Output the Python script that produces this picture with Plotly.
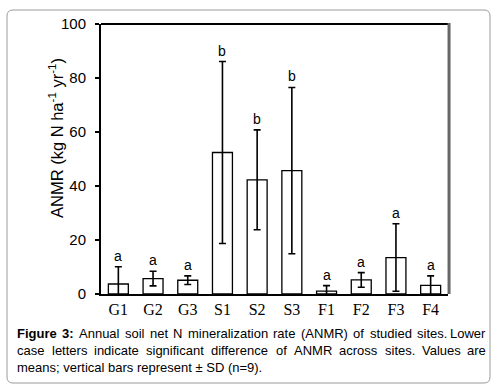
import plotly.graph_objects as go

sites = ["G1", "G2", "G3", "S1", "S2", "S3", "F1", "F2", "F3", "F4"]
means = [3.7, 5.7, 5.1, 52.4, 42.3, 45.7, 1.1, 5.2, 13.5, 3.2]
sds = [6.4, 2.7, 1.6, 33.7, 18.5, 30.8, 2.0, 2.7, 12.5, 3.5]
letters = ["a", "a", "a", "b", "b", "b", "a", "a", "a", "a"]
y_ticks = [0, 20, 40, 60, 80, 100]

W, H = 503, 391
L, R, T, B = 101, 448, 24, 294  # plot area in pixels

def px(x):
    return (x - L) / (R - L)

def py(y):
    return (B - y) / (B - T)

fig = go.Figure()
fig.add_trace(go.Bar(
    x=sites, y=means,
    marker=dict(color="white", line=dict(color="black", width=1.3)),
    error_y=dict(type="data", array=sds, visible=True, color="black",
                 thickness=1.6, width=3.5),
    width=0.575,
))

for s, m, sd, lt in zip(sites, means, sds, letters):
    fig.add_annotation(x=s, y=m + sd, text=lt, showarrow=False,
                       yanchor="bottom", yshift=1,
                       font=dict(family="Liberation Sans", size=14, color="black"))

# y-axis title
fig.add_annotation(x=px(56), y=py(138), xref="paper", yref="paper",
                   text="ANMR (kg N ha<sup>-1</sup> yr<sup>-1</sup>)", textangle=-90,
                   showarrow=False, xanchor="center", yanchor="middle",
                   font=dict(family="Liberation Sans", size=16.5, color="black"))

# outer rounded frame
x0, x1, y0, y1 = px(7), px(490), py(383), py(10)
rx, ry = 6 / (R - L), 6 / (B - T)
path = (f"M {x0+rx},{y1} L {x1-rx},{y1} Q {x1},{y1} {x1},{y1-ry} "
        f"L {x1},{y0+ry} Q {x1},{y0} {x1-rx},{y0} L {x0+rx},{y0} "
        f"Q {x0},{y0} {x0},{y0+ry} L {x0},{y1-ry} Q {x0},{y1} {x0+rx},{y1} Z")
fig.add_shape(type="path", path=path, xref="paper", yref="paper",
              line=dict(color="#9a9a9a", width=1), layer="below")
# top border line
fig.add_shape(type="line", xref="paper", yref="paper", x0=0, x1=1, y0=1, y1=1,
              line=dict(color="black", width=2))
# right border (grey)
fig.add_shape(type="line", xref="paper", yref="paper", x0=1.003, x1=1.003, y0=0, y1=1.004,
              line=dict(color="#666666", width=3))

# ---- caption, justified word by word ----
CAP_SIZE = 13
AW = {' ': 278, 'a': 556, 'b': 556, 'c': 500, 'd': 556, 'e': 556, 'f': 278, 'g': 556,
      'h': 556, 'i': 222, 'j': 222, 'k': 500, 'l': 222, 'm': 833, 'n': 556, 'o': 556,
      'p': 556, 'q': 556, 'r': 333, 's': 500, 't': 278, 'u': 556, 'v': 500, 'w': 722,
      'x': 500, 'y': 500, 'z': 500, 'A': 667, 'B': 667, 'C': 722, 'D': 722, 'E': 667,
      'F': 611, 'G': 778, 'H': 722, 'I': 278, 'L': 556, 'M': 833, 'N': 722, 'R': 722,
      'S': 667, 'V': 667, '(': 333, ')': 333, '.': 278, ':': 278, ';': 278, '=': 584,
      '±': 584}
BW = {'F': 611, 'i': 278, 'g': 611, 'u': 611, 'r': 389, 'e': 556, '3': 556, ':': 333}

def wwidth(word, bold=False):
    tbl = BW if bold else AW
    return sum(tbl.get(c, 556) for c in word) / 1000 * CAP_SIZE

cap_font = dict(family="Liberation Sans", size=CAP_SIZE, color="black")
line1 = [("Figure", True), ("3:", True)] + [(w, False) for w in
         "Annual soil net N mineralization rate (ANMR) of studied sites. Lower".split()]
line2 = [(w, False) for w in
         "case letters indicate significant difference of ANMR across sites. Values are".split()]
CAP_L, CAP_R = 16, 487
for i, words in enumerate([line1, line2]):
    yy = py(333 + 17 * i)
    total = sum(wwidth(w, b) for w, b in words)
    gap = (CAP_R - CAP_L - total) / (len(words) - 1)
    xcur = CAP_L
    for j, (w, b) in enumerate(words):
        txt = f"<b>{w}</b>" if b else w
        last = j == len(words) - 1
        fig.add_annotation(x=px(CAP_R if last else xcur), y=yy, xref="paper", yref="paper",
                           text=txt, showarrow=False, borderpad=0,
                           xanchor="right" if last else "left", yanchor="middle",
                           font=cap_font)
        xcur += wwidth(w, b) + gap
fig.add_annotation(x=px(CAP_L), y=py(333 + 34), xref="paper", yref="paper",
                   text="means; vertical bars represent ± SD (n=9).", showarrow=False,
                   borderpad=0, xanchor="left", yanchor="middle", font=cap_font)

fig.update_layout(
    width=W, height=H,
    margin=dict(l=L, r=W - R, t=T, b=H - B),
    paper_bgcolor="white", plot_bgcolor="white",
    showlegend=False,
    bargap=0.425,
    xaxis=dict(showline=True, linecolor="black", linewidth=2, ticks="",
               tickfont=dict(family="Liberation Serif", size=16, color="black"),
               showgrid=False),
    yaxis=dict(range=[0, 100], tickvals=y_ticks, showline=True, linecolor="black",
               linewidth=2, ticks="outside", ticklen=4, tickwidth=1.5, tickcolor="black",
               showgrid=False, zeroline=False, ticklabelstandoff=6,
               tickfont=dict(family="Liberation Sans", size=15, color="black")),
)

fig.write_html("out.html", config={"displayModeBar": False},
               post_script="document.body.style.margin='0';")
